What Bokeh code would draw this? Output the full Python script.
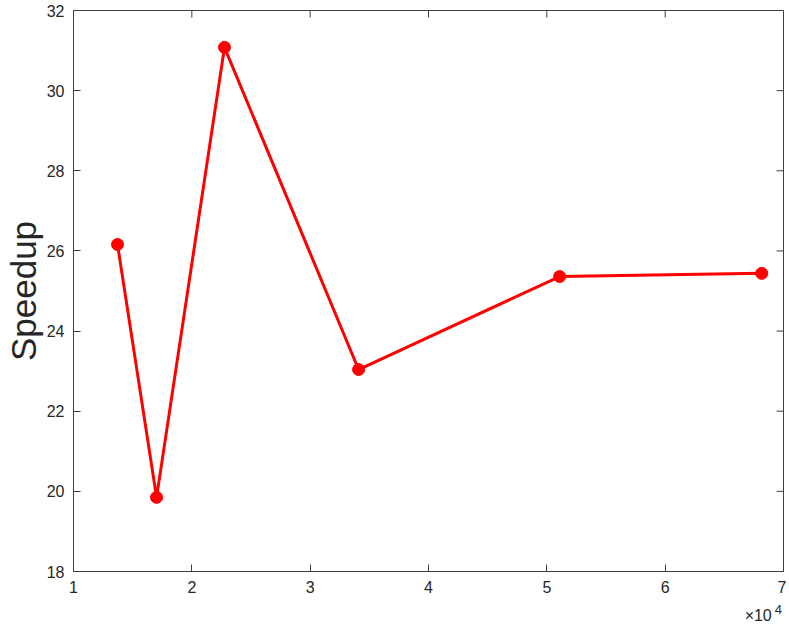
from math import pi
from bokeh.plotting import figure
from bokeh.models import LinearAxis, FixedTicker, Range1d, Div
from bokeh.layouts import column
from bokeh.embed import file_html
from bokeh.resources import INLINE

# data
n_values = [13720, 17020, 22760, 34090, 51080, 68160]
speedup = [26.16, 19.85, 31.08, 23.04, 25.36, 25.44]
x_ticks = [10000, 20000, 30000, 40000, 50000, 60000, 70000]
x_tick_labels = ["1", "2", "3", "4", "5", "6", "7"]
y_ticks = [18, 20, 22, 24, 26, 28, 30, 32]

FONT = "Liberation Sans"
AX = "#404040"
TXT = "#262626"

p = figure(width=786, height=598, output_backend="svg", toolbar_location=None,
           x_range=Range1d(min(x_ticks), max(x_ticks)), y_range=Range1d(min(y_ticks), max(y_ticks)),
           min_border_left=73, min_border_right=3, min_border_top=10, min_border_bottom=27,
           x_axis_location=None, y_axis_location=None)
p.grid.visible = False
p.outline_line_color = AX
p.outline_line_width = 1
p.background_fill_color = "white"
p.border_fill_color = "white"

def style(ax):
    ax.axis_line_color = AX
    ax.major_tick_line_color = AX
    ax.major_tick_in = 7
    ax.major_tick_out = 0
    ax.minor_tick_line_color = None
    ax.major_label_text_font = FONT
    ax.major_label_text_color = TXT
    ax.major_label_text_font_size = "16px"

xb = LinearAxis(ticker=FixedTicker(ticks=x_ticks),
                major_label_overrides={t: l for t, l in zip(x_ticks, x_tick_labels)})
style(xb)
xb.major_label_standoff = 9
p.add_layout(xb, "below")

yl = LinearAxis(ticker=FixedTicker(ticks=y_ticks), axis_label="Speedup")
style(yl)
yl.major_label_standoff = 9
yl.axis_label_text_font = FONT
yl.axis_label_text_font_size = "35px"
yl.axis_label_text_font_style = "normal"
yl.axis_label_text_color = TXT
yl.axis_label_standoff = 1
p.add_layout(yl, "left")

# inward ticks on the top and right edges of the box
p.ray(x=x_ticks, y=[max(y_ticks)] * len(x_ticks), length=7, length_units="screen",
      angle=-pi / 2, line_color=AX, line_width=1)
p.ray(x=[max(x_ticks)] * len(y_ticks), y=y_ticks, length=7, length_units="screen",
      angle=pi, line_color=AX, line_width=1)

p.line(n_values, speedup, line_color="#ff0000", line_width=3)
p.scatter(n_values, speedup, size=12, fill_color="#ff0000", line_color="#ff0000")

exp_div = Div(
    text=('<div style="width:782px;text-align:right;font-family:\'Liberation Sans\';'
          'font-size:16px;color:#262626;line-height:16px;padding-top:10px;white-space:nowrap;">'
          '×10<span style="position:relative;top:-7px;font-size:13px;margin-left:3px;">4</span></div>'),
    width=786, height=26, margin=(0, 0, 0, 0))

layout = column(p, exp_div, spacing=0)
open("out.html", "w").write(file_html(layout, INLINE))
